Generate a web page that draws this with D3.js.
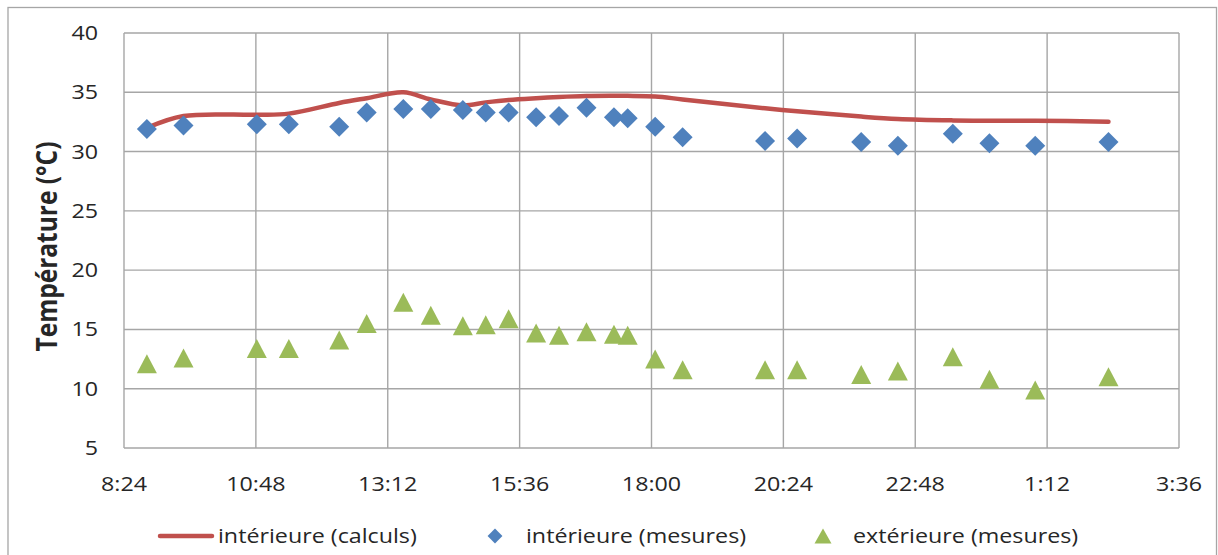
<!DOCTYPE html>
<html>
<head>
<meta charset="utf-8">
<script src="https://cdn.jsdelivr.net/npm/d3@7"></script>
<style>
  html, body { margin: 0; padding: 0; background: #fff; }
  svg { display: block; }
  text { font-family: "Open Sans", Lato, sans-serif; fill: #262626; }
</style>
</head>
<body>
<svg id="chart" width="1218" height="555"></svg>
<script>
// ---- data ----
const measTimes = ["8:49","9:29","10:49","11:24","12:19","12:49","13:29","13:59","14:34","14:59","15:24","15:54","16:19","16:49","17:19","17:34","18:04","18:34","20:04","20:39","21:49","22:29","23:29","0:09","0:59","2:19"];
const interieureMesures = [31.9,32.2,32.3,32.3,32.1,33.3,33.6,33.6,33.5,33.3,33.3,32.9,33.0,33.7,32.9,32.8,32.1,31.2,30.9,31.1,30.8,30.5,31.5,30.7,30.5,30.8];
const exterieureMesures = [12.1,12.6,13.4,13.4,14.1,15.5,17.3,16.2,15.3,15.4,15.9,14.7,14.5,14.8,14.6,14.5,12.5,11.6,11.6,11.6,11.2,11.5,12.7,10.8,9.9,11.0];
const calcTimes = ["8:49","9:29","10:49","11:24","12:19","12:49","13:29","13:59","14:34","14:59","15:24","15:54","16:19","16:49","17:19","17:34","18:04","18:34","20:04","20:39","21:49","22:29","23:29","0:09","0:59","2:19"];
const interieureCalculs = [32.0,33.0,33.1,33.2,34.1,34.5,35.0,34.4,33.9,34.15,34.35,34.5,34.6,34.68,34.7,34.7,34.65,34.4,33.65,33.4,32.95,32.75,32.63,32.6,32.6,32.52];
const xTickLabels = ["8:24","10:48","13:12","15:36","18:00","20:24","22:48","1:12","3:36"];
const yTicks = [5,10,15,20,25,30,35,40];
const seriesNames = ["intérieure (calculs)","intérieure (mesures)","extérieure (mesures)"];
const yTitle = "Température (°C)";

// ---- helpers ----
const START = 8*60 + 24;
function toMin(s) {
  const [h, m] = s.split(":").map(Number);
  let v = h*60 + m;
  if (v < START) v += 1440;
  return v;
}
const SX = 1.175; // horizontal stretch of the original figure's text
const FS = "19.8px";

const svg = d3.select("#chart");
const pL = 124, pR = 1179, pT = 33, pB = 448;

const x = d3.scaleLinear().domain([toMin(xTickLabels[0]), toMin(xTickLabels[xTickLabels.length-1])]).range([pL, pR]);
const y = d3.scaleLinear().domain([5, 40]).range([pB, pT]);

const gridColor = "#a6a6a6";

// outer chart border
svg.append("rect").attr("x", 8).attr("y", 7.5).attr("width", 1208.5).attr("height", 560)
  .attr("fill", "none").attr("stroke", "#a6a6a6").attr("stroke-width", 1.3);

// gridlines (horizontal)
svg.append("g").selectAll("line").data(yTicks).join("line")
  .attr("x1", pL).attr("x2", pR)
  .attr("y1", d => y(d)).attr("y2", d => y(d))
  .attr("stroke", gridColor).attr("stroke-width", 1.4);
// gridlines (vertical)
svg.append("g").selectAll("line").data(xTickLabels).join("line")
  .attr("x1", d => x(toMin(d))).attr("x2", d => x(toMin(d)))
  .attr("y1", pT).attr("y2", pB)
  .attr("stroke", gridColor).attr("stroke-width", 1.4);

// y tick labels
svg.append("g").selectAll("text").data(yTicks).join("text")
  .attr("transform", d => `translate(98,${y(d) + 7}) scale(${SX},1)`)
  .attr("text-anchor", "end")
  .style("font-size", FS)
  .text(d => d);

// x tick labels
svg.append("g").selectAll("text").data(xTickLabels).join("text")
  .attr("transform", d => `translate(${x(toMin(d))},491) scale(${SX},1)`)
  .attr("text-anchor", "middle")
  .style("font-size", FS)
  .text(d => d);

// y title
svg.append("text")
  .attr("transform", `translate(57,${(pT+pB)/2 + 6}) rotate(-90) scale(1,${SX})`)
  .attr("text-anchor", "middle")
  .style("font-size", "24.5px").style("font-weight", "bold")
  .text(yTitle);

// calc line
const calcData = calcTimes.map((t, i) => [toMin(t), interieureCalculs[i]]);
svg.append("path").datum(calcData)
  .attr("d", d3.line().x(d => x(d[0])).y(d => y(d[1])).curve(d3.curveCatmullRom.alpha(0.5)))
  .attr("fill", "none").attr("stroke", "#C0504D").attr("stroke-width", 4.5)
  .attr("stroke-linecap", "round").attr("stroke-linejoin", "round");

// diamonds
const diamond = d3.symbol().type(d3.symbolSquare).size(200);
svg.append("g").selectAll("path").data(measTimes.map((t, i) => [toMin(t), interieureMesures[i]])).join("path")
  .attr("d", diamond)
  .attr("transform", d => `translate(${x(d[0])},${y(d[1])}) rotate(45)`)
  .attr("fill", "#4F81BD");

// triangles
function triPath(cx, cy, w, h) {
  return `M${cx},${cy - h/2}L${cx + w/2},${cy + h/2}L${cx - w/2},${cy + h/2}Z`;
}
svg.append("g").selectAll("path").data(measTimes.map((t, i) => [toMin(t), exterieureMesures[i]])).join("path")
  .attr("d", d => triPath(x(d[0]), y(d[1]), 20, 19))
  .attr("fill", "#9BBB59");

// legend
const ly = 536;
const lg = svg.append("g");
lg.append("line").attr("x1", 160).attr("x2", 212).attr("y1", ly).attr("y2", ly)
  .attr("stroke", "#C0504D").attr("stroke-width", 4.5).attr("stroke-linecap", "round");
lg.append("text").attr("transform", `translate(218,${ly + 7}) scale(${SX},1)`)
  .style("font-size", FS).text(seriesNames[0]);
lg.append("path").attr("d", d3.symbol().type(d3.symbolSquare).size(110))
  .attr("transform", `translate(495,${ly}) rotate(45)`).attr("fill", "#4F81BD");
lg.append("text").attr("transform", `translate(526,${ly + 7}) scale(${SX},1)`)
  .style("font-size", FS).text(seriesNames[1]);
lg.append("path").attr("d", triPath(823, ly, 17, 15)).attr("fill", "#9BBB59");
lg.append("text").attr("transform", `translate(853,${ly + 7}) scale(${SX},1)`)
  .style("font-size", FS).text(seriesNames[2]);
</script>
</body>
</html>
